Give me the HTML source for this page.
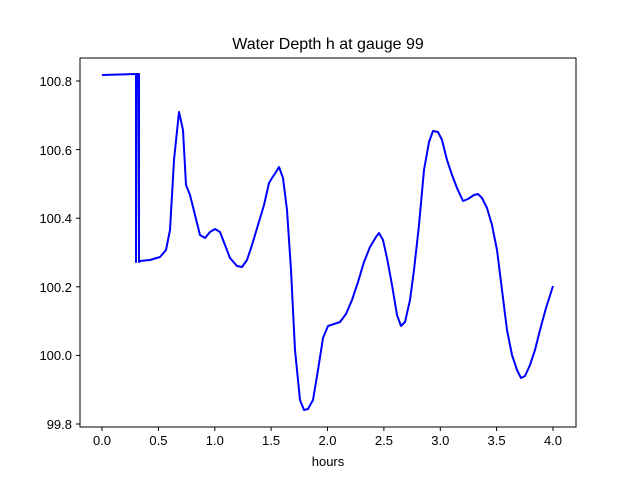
<!DOCTYPE html>
<html><head><meta charset="utf-8"><style>body{margin:0;background:#fff}svg{display:block}text{font-family:"Liberation Sans","DejaVu Sans",sans-serif;font-size:13px;fill:#000}</style></head><body>
<svg width="640" height="480" xmlns="http://www.w3.org/2000/svg">
<rect width="640" height="480" fill="#fff"/>
<g stroke="#000" stroke-width="1">
<line x1="102" y1="427" x2="102" y2="431"/><line x1="158.4" y1="427" x2="158.4" y2="431"/><line x1="214.8" y1="427" x2="214.8" y2="431"/><line x1="271.1" y1="427" x2="271.1" y2="431"/><line x1="327.5" y1="427" x2="327.5" y2="431"/><line x1="383.9" y1="427" x2="383.9" y2="431"/><line x1="440.3" y1="427" x2="440.3" y2="431"/><line x1="496.6" y1="427" x2="496.6" y2="431"/><line x1="553" y1="427" x2="553" y2="431"/>
<line x1="76" y1="424" x2="80" y2="424"/><line x1="76" y1="355.4" x2="80" y2="355.4"/><line x1="76" y1="286.8" x2="80" y2="286.8"/><line x1="76" y1="218.2" x2="80" y2="218.2"/><line x1="76" y1="149.6" x2="80" y2="149.6"/><line x1="76" y1="81" x2="80" y2="81"/>
</g>
<g text-anchor="middle">
<text x="102" y="445">0.0</text><text x="158.4" y="445">0.5</text><text x="214.8" y="445">1.0</text><text x="271.1" y="445">1.5</text><text x="327.5" y="445">2.0</text><text x="383.9" y="445">2.5</text><text x="440.3" y="445">3.0</text><text x="496.6" y="445">3.5</text><text x="553" y="445">4.0</text>
<text x="328" y="466">hours</text>
<text x="328" y="49" style="font-size:16px">Water Depth h at gauge 99</text>
</g>
<g text-anchor="end">
<text x="72" y="429">99.8</text><text x="72" y="360">100.0</text><text x="72" y="292">100.2</text><text x="72" y="223">100.4</text><text x="72" y="155">100.6</text><text x="72" y="86">100.8</text>
</g>
<polyline fill="none" stroke="#0000ff" stroke-width="2" stroke-linejoin="round" points="102,75 136,74 136,262 137,74 139,74 139,262 140,261 150,260 160,257 166,250 170,230 174,160 179,112 183,130 186,185 190,195 195,215 200,235 205,238 210,232 215,229 220,232 225,245 230,258 237,266 242,267 247,260 252,245 258,225 264,205 269,183 272,178 276,172 279,167 283,178 287,210 291,270 295,350 300,400 304,410 308,409 313,400 318,370 323,338 328,326 334,324 340,322 346,314 352,300 358,282 364,262 370,247 376,237 379,233 383,240 387,258 392,285 397,315 401,326 405,322 410,300 414,270 419,225 424,170 429,142 433,131 438,132 442,140 447,160 452,175 457,188 463,201 468,199 474,195 478,194 482,198 487,208 492,225 497,250 502,290 507,330 512,355 517,370 521,378 525,376 530,365 535,350 540,330 546,308 553,286"/>
<rect x="80" y="58" width="496" height="369" fill="none" stroke="#000" stroke-width="1"/>
</svg>
</body></html>
